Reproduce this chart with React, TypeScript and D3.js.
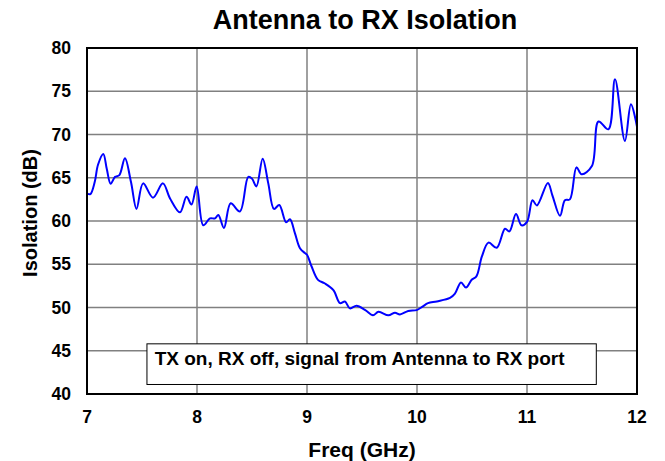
import { scaleLinear, line, curveCatmullRom, range } from 'd3'

const freq = [
  7.0, 7.03, 7.07, 7.1, 7.148, 7.18, 7.215, 7.255, 7.294, 7.345, 7.4, 7.45, 7.51, 7.6, 7.69, 7.755,
  7.845, 7.905, 7.95, 7.997, 8.057, 8.118, 8.164, 8.194, 8.245, 8.306, 8.39, 8.466, 8.5, 8.54, 8.597,
  8.648, 8.7, 8.748, 8.81, 8.845, 8.89, 8.936, 8.98, 9.0, 9.04, 9.1, 9.16, 9.24, 9.3, 9.345, 9.39,
  9.45, 9.53, 9.6, 9.65, 9.74, 9.8, 9.845, 9.92, 9.997, 10.05, 10.1, 10.18, 10.3, 10.345, 10.4,
  10.445, 10.497, 10.54, 10.59, 10.65, 10.725, 10.8, 10.84, 10.9, 10.95, 11.0, 11.05, 11.09, 11.19,
  11.23, 11.3, 11.345, 11.39, 11.45, 11.497, 11.59, 11.65, 11.74, 11.8, 11.89, 11.945, 12.0
]
const isolation = [
  63.2, 63.1, 64.5, 66.5, 67.75, 66.0, 64.3, 65.1, 65.3, 67.25, 64.5, 61.4, 64.35, 62.7, 64.35, 62.6,
  61.0, 62.8, 61.9, 64.0, 59.5, 60.3, 60.3, 60.7, 59.2, 62.05, 61.1, 65.1, 64.9, 64.0, 67.2,
  64.35, 61.4, 61.85, 59.85, 60.2, 58.6, 56.85, 56.3, 56.1, 54.8, 53.2, 52.8, 52.0, 50.5, 50.7, 49.9,
  50.2, 49.7, 49.1, 49.5, 49.1, 49.4, 49.2, 49.6, 49.7, 50.1, 50.5, 50.7, 51.1, 51.6, 52.9,
  52.3, 53.2, 53.6, 55.9, 57.5, 56.9, 59.1, 58.8, 60.8, 59.5, 59.9, 62.4, 61.8, 64.4,
  63.0, 60.6, 62.4, 62.5, 66.2, 65.4, 66.35, 71.5, 70.6, 76.4, 69.25, 73.5, 70.9
]
const xTicks = [7, 8, 9, 10, 11, 12]
const yTicks = [40, 45, 50, 55, 60, 65, 70, 75, 80]
const title = 'Antenna to RX Isolation'
const xLabel = 'Freq (GHz)'
const yLabel = 'Isolation (dB)'
const note = 'TX on, RX off, signal from Antenna to RX port'

const W = 665
const H = 461
const margin = { left: 87, right: 28, top: 48, bottom: 67 }
const font = "'Liberation Sans', Arial, sans-serif"

export default function App() {
  const x = scaleLinear().domain([7, 12]).range([margin.left, W - margin.right])
  const y = scaleLinear().domain([40, 80]).range([H - margin.bottom, margin.top])
  const pts = range(freq.length).map(i => [freq[i], isolation[i]] as [number, number])
  const path = line<[number, number]>()
    .x(d => x(d[0]))
    .y(d => y(d[1]))
    .curve(curveCatmullRom.alpha(0.5))(pts)

  const [x0, x1] = x.range()
  const [y0, y1] = y.range()

  return (
    <svg width={W} height={H} style={{ position: 'absolute', left: 0, top: 0, background: '#fff' }}
      fontFamily={font} fontWeight="bold">
      <rect x={0} y={0} width={W} height={H} fill="#fff" />
      {xTicks.slice(1, -1).map(t => (
        <line key={'gx' + t} x1={x(t)} x2={x(t)} y1={y1} y2={y0} stroke="#808080" strokeWidth={1.5} />
      ))}
      {yTicks.slice(1, -1).map(t => (
        <line key={'gy' + t} x1={x0} x2={x1} y1={y(t)} y2={y(t)} stroke="#808080" strokeWidth={1.5} />
      ))}
      <path d={path ?? ''} fill="none" stroke="#0000ff" strokeWidth={2} />
      <rect x={x0} y={y1} width={x1 - x0} height={y0 - y1} fill="none" stroke="#000" strokeWidth={2} />
      <rect x={x(7.545)} y={y(45.8)} width={x(11.63) - x(7.545)} height={y(41.1) - y(45.8)}
        fill="#fff" stroke="#000" strokeWidth={1} />
      <text x={x(7.615)} y={365} fontSize={19} fill="#000">{note}</text>
      {xTicks.map(t => (
        <text key={'tx' + t} x={x(t)} y={y0 + 29} textAnchor="middle" fontSize={17.5} fill="#000">{t}</text>
      ))}
      {yTicks.map(t => (
        <text key={'ty' + t} x={x0 - 16} y={y(t)} dy="0.35em" textAnchor="end" fontSize={17.5} fill="#000">{t}</text>
      ))}
      <text x={(x0 + x1) / 2} y={457} textAnchor="middle" fontSize={21} fill="#000">{xLabel}</text>
      <text transform={`translate(37,${(y0 + y1) / 2 - 8}) rotate(-90)`} textAnchor="middle" fontSize={20} fill="#000">{yLabel}</text>
      <text x={(x0 + x1) / 2 + 3} y={29} textAnchor="middle" fontSize={27} fill="#000">{title}</text>
    </svg>
  )
}
